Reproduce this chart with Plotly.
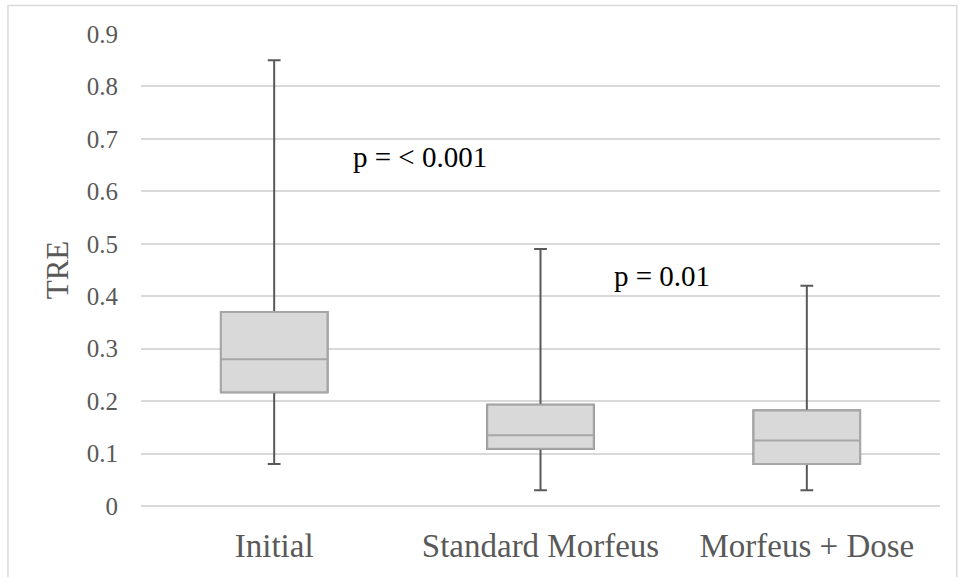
import plotly.graph_objects as go

categories = ["Initial", "Standard Morfeus", "Morfeus + Dose"]
lower_whisker = [0.08, 0.03, 0.03]
q1 = [0.217, 0.109, 0.08]
median = [0.28, 0.135, 0.125]
q3 = [0.37, 0.193, 0.182]
upper_whisker = [0.85, 0.49, 0.42]

annot_text = ["p = < 0.001", "p = 0.01"]
annot_x = [0.547, 1.455]
annot_y = [0.665, 0.438]

y_ticks = [0, 0.1, 0.2, 0.3, 0.4, 0.5, 0.6, 0.7, 0.8, 0.9]
y_ticktext = ["0", "0.1", "0.2", "0.3", "0.4", "0.5", "0.6", "0.7", "0.8", "0.9"]

FONT = "Liberation Serif"

fig = go.Figure()

# whiskers (dark)
fig.add_trace(go.Box(
    x=categories, q1=q1, median=median, q3=q3,
    lowerfence=lower_whisker, upperfence=upper_whisker,
    width=0.4, whiskerwidth=0.12,
    line=dict(color="#595959", width=2),
    fillcolor="rgba(0,0,0,0)",
    boxpoints=False, showlegend=False, hoverinfo="skip",
))
# boxes (light)
fig.add_trace(go.Box(
    x=categories, q1=q1, median=median, q3=q3,
    lowerfence=q1, upperfence=q3,
    width=0.4, whiskerwidth=0,
    line=dict(color="#a6a6a6", width=2),
    fillcolor="#d9d9d9",
    boxpoints=False, showlegend=False, hoverinfo="skip",
))

for t, x, y in zip(annot_text, annot_x, annot_y):
    fig.add_annotation(x=x, y=y, xref="x", yref="y", text=t, showarrow=False,
                       font=dict(family=FONT, size=29, color="#000000"))

fig.add_shape(type="rect", xref="paper", yref="paper",
              x0=-0.1665, x1=1.021, y0=-0.2, y1=1.0604,
              line=dict(color="#d9d9d9", width=1.5), layer="below")

fig.update_layout(
    width=959, height=577,
    margin=dict(l=141, r=19, t=34, b=71),
    plot_bgcolor="white", paper_bgcolor="white",
    boxmode="overlay",
    font=dict(family=FONT, color="#595959"),
    xaxis=dict(
        type="category", range=[-0.5, 2.5],
        showgrid=False, zeroline=False, showline=False,
        tickfont=dict(family=FONT, size=33, color="#595959"),
        ticklabelstandoff=17,
    ),
    yaxis=dict(
        range=[0, 0.9], tickvals=y_ticks, ticktext=y_ticktext,
        showgrid=True, gridcolor="#d9d9d9", gridwidth=1.5,
        zeroline=True, zerolinecolor="#d9d9d9", zerolinewidth=1.5,
        showline=False,
        tickfont=dict(family=FONT, size=25, color="#595959"),
        ticklabelstandoff=22,
        title=dict(text="TRE", font=dict(family=FONT, size=31, color="#595959"), standoff=8),
    ),
)

fig.write_html("out.html")
